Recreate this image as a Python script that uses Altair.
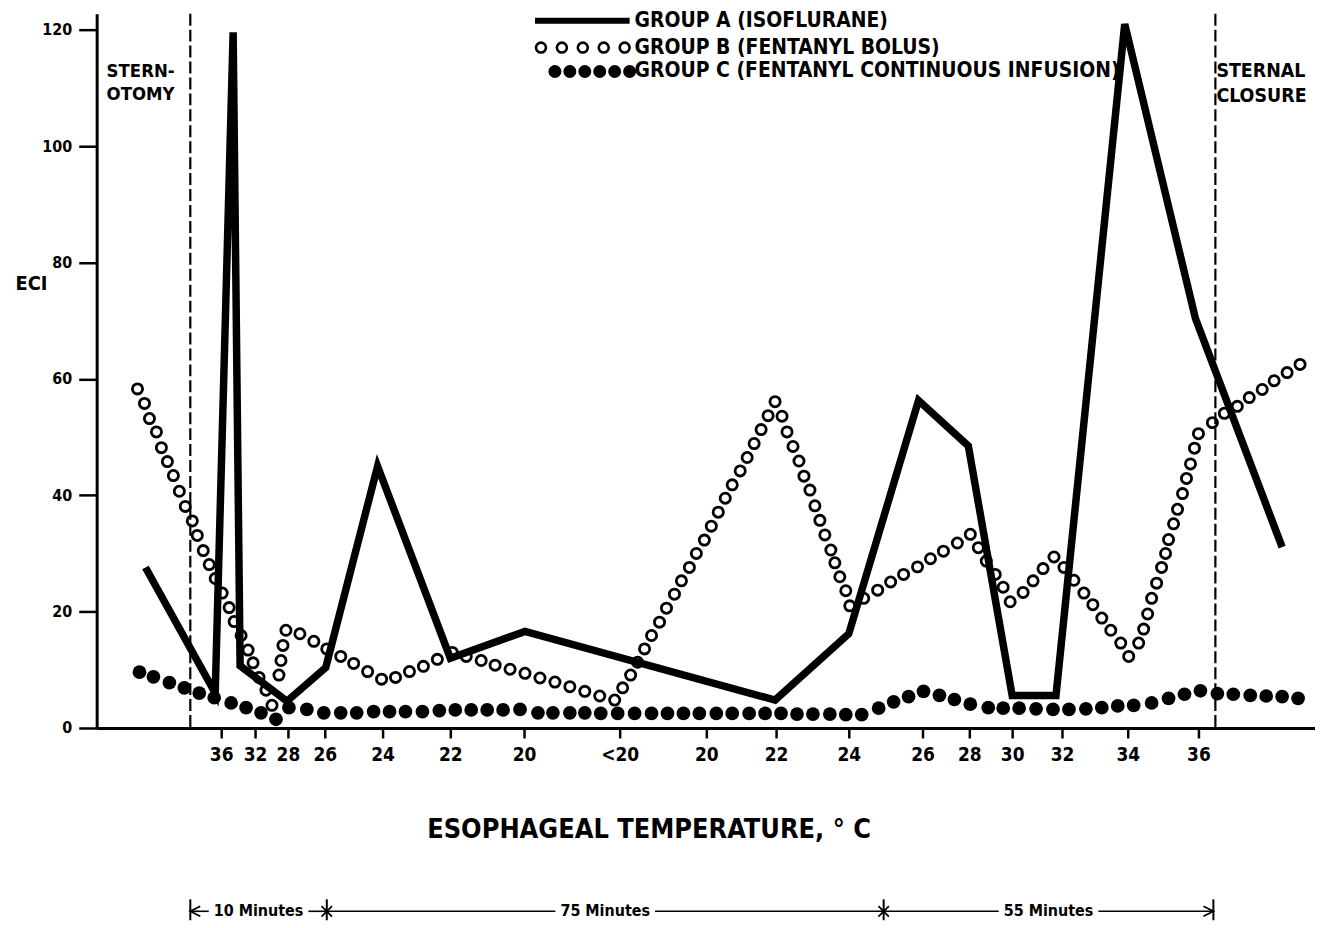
import altair as alt
import pandas as pd

FONT = "Liberation Sans Narrow, DejaVu Sans Condensed, Arial Narrow, sans-serif"

# ---------------- data ----------------
# x axis: schematic time/temperature course; ticks carry temperature labels
tick_pos = [222, 256, 289, 326, 384, 452, 526, 622, 709, 779, 852, 926, 973, 1016, 1066, 1132, 1203]
tick_lab = ["36", "32", "28", "26", "24", "22", "20", "<20", "20", "22", "24", "26", "28", "30", "32", "34", "36"]
y_ticks = [0, 20, 40, 60, 80, 100, 120]

# Group A (isoflurane) - solid line
a_pos = [146, 216, 234, 241, 288, 327, 379, 452, 527, 778, 852, 922, 972, 1016, 1060, 1129, 1200, 1287]
a_val = [27.6, 6.0, 119.6, 10.7, 4.6, 10.4, 45.0, 12.0, 16.6, 4.8, 16.2, 56.3, 48.5, 5.6, 5.6, 121.0, 70.4, 31.1]

# Group B (fentanyl bolus) - open circles
b_pos = [138, 145, 150, 157, 162, 168, 174, 180, 186, 193,
         198, 204, 210, 216, 223, 230, 235, 242, 249, 254,
         260, 267, 273, 280, 282, 284, 287, 301, 315, 328,
         342, 355, 369, 383, 397, 411, 425, 439, 454, 468,
         483, 497, 512, 527, 542, 557, 572, 587, 602, 617,
         625, 633, 640, 647, 654, 662, 669, 677, 684, 692,
         699, 707, 714, 721, 728, 735, 743, 750, 757, 764,
         771, 778, 785, 790, 796, 802, 807, 813, 818, 823,
         828, 834, 838, 843, 849, 853, 867, 881, 894, 907,
         921, 934, 947, 961, 974, 982, 990, 999, 1007, 1014,
         1027, 1037, 1047, 1058, 1068, 1078, 1088, 1097, 1106, 1115,
         1125, 1133, 1143, 1148, 1152, 1156, 1161, 1166, 1170, 1173,
         1178, 1182, 1187, 1191, 1195, 1199, 1203, 1217, 1229, 1242,
         1254, 1267, 1279, 1292, 1305]
b_val = [58.3, 55.8, 53.2, 50.9, 48.2, 45.8, 43.4, 40.7, 38.1, 35.6,
         33.1, 30.5, 28.1, 25.7, 23.2, 20.7, 18.3, 15.9, 13.4, 11.2,
         8.7, 6.5, 3.9, 9.1, 11.6, 14.2, 16.8, 16.2, 14.9, 13.6,
         12.3, 11.1, 9.7, 8.4, 8.7, 9.7, 10.6, 11.8, 13.0, 12.3,
         11.6, 10.8, 10.1, 9.4, 8.6, 7.9, 7.1, 6.3, 5.5, 4.8,
         6.9, 9.1, 11.3, 13.6, 15.9, 18.2, 20.6, 23.0, 25.3, 27.6,
         30.0, 32.3, 34.7, 37.1, 39.5, 41.8, 44.2, 46.5, 48.9, 51.3,
         53.7, 56.1, 53.6, 50.9, 48.4, 45.9, 43.3, 40.9, 38.2, 35.7,
         33.2, 30.6, 28.4, 26.0, 23.6, 21.0, 22.3, 23.7, 25.1, 26.4,
         27.7, 29.1, 30.4, 31.8, 33.3, 31.0, 28.7, 26.4, 24.2, 21.7,
         23.3, 25.3, 27.4, 29.4, 27.6, 25.4, 23.2, 21.2, 18.9, 16.8,
         14.6, 12.3, 14.6, 17.0, 19.6, 22.3, 24.9, 27.6, 30.0, 32.4,
         35.1, 37.6, 40.3, 42.9, 45.4, 48.1, 50.6, 52.5, 54.1, 55.3,
         56.8, 58.2, 59.7, 61.1, 62.5]

# Group C (fentanyl continuous infusion) - filled circles
c_pos = [140, 154, 170, 185, 200, 215, 232, 247, 262, 277,
         290, 308, 325, 342, 358, 375, 391, 407, 424, 441,
         457, 473, 489, 505, 522, 540, 555, 572, 587, 603,
         620, 637, 654, 670, 686, 702, 719, 735, 752, 768,
         784, 800, 816, 833, 849, 865, 882, 897, 912, 927,
         943, 958, 974, 992, 1007, 1023, 1040, 1057, 1073, 1090,
         1106, 1122, 1138, 1156, 1173, 1189, 1205, 1222, 1238, 1255,
         1271, 1287, 1303]
c_val = [9.6, 8.8, 7.8, 6.9, 6.0, 5.2, 4.3, 3.5, 2.6, 1.5,
         3.5, 3.2, 2.6, 2.6, 2.6, 2.8, 2.8, 2.8, 2.8, 3.0,
         3.1, 3.1, 3.1, 3.1, 3.2, 2.6, 2.6, 2.6, 2.6, 2.5,
         2.5, 2.5, 2.5, 2.5, 2.5, 2.5, 2.5, 2.5, 2.5, 2.5,
         2.5, 2.4, 2.4, 2.4, 2.3, 2.3, 3.4, 4.5, 5.4, 6.3,
         5.6, 4.9, 4.1, 3.5, 3.4, 3.4, 3.3, 3.2, 3.2, 3.3,
         3.5, 3.8, 3.9, 4.3, 5.1, 5.8, 6.4, 5.9, 5.8, 5.6,
         5.5, 5.4, 5.1]

# events (dashed lines) and elapsed-time spans
event_pos = [191, 1220]
event_lab = [["STERN-", "OTOMY"], ["STERNAL", "CLOSURE"]]
span_start = [191, 328, 887]
span_end = [328, 887, 1218]
span_lab = ["10 Minutes", "75 Minutes", "55 Minutes"]

legend_lab = ["GROUP A (ISOFLURANE)", "GROUP B (FENTANYL BOLUS)",
              "GROUP C (FENTANYL CONTINUOUS INFUSION)"]

# ---------------- layout ----------------
X0, X1 = 97, 1320
YMAX = 122.8
W, H = X1 - X0, 717
BASE_ROW = 12 + H  # page row of ECI = 0


def yv(py):
    """page row -> ECI units (used only to place annotations through the scale)"""
    return (BASE_ROW - py) * YMAX / H


xs = alt.Scale(domain=[X0, X1], nice=False, zero=False)
ys = alt.Scale(domain=[0, YMAX], nice=False, zero=False)

label_expr = ("[" + ",".join(f"'{l}'" for l in tick_lab) + "][indexof(["
              + ",".join(str(p) for p in tick_pos) + "], datum.value)]")

x_axis = alt.Axis(values=tick_pos, labelExpr=label_expr,
                  title="ESOPHAGEAL TEMPERATURE, ° C", grid=False,
                  domainColor="black", domainWidth=3, tickColor="black",
                  tickWidth=2.5, tickSize=10, labelFont=FONT, labelFontSize=19,
                  labelFontWeight="bold", labelColor="black", labelPadding=8,
                  labelOverlap=False, labelFlush=False, titleFont=FONT,
                  titleFontSize=27, titleFontWeight="bold", titleColor="black",
                  titlePadding=52, titleX=554, titleAlign="center")
y_axis = alt.Axis(values=y_ticks, title="ECI", titleAngle=0, titleX=-66, titleY=271,
                  titleAlign="center", titleBaseline="middle", titleFont=FONT,
                  titleFontSize=20, titleFontWeight="bold", titleColor="black",
                  grid=False, domainColor="black", domainWidth=3, tickColor="black",
                  tickWidth=2.5, tickSize=18, labelFont=FONT, labelFontSize=16,
                  labelFontWeight="bold", labelColor="black", labelPadding=7)


def X(field="pos"):
    return alt.X(f"{field}:Q", scale=xs, axis=x_axis)


def Y(field="v"):
    return alt.Y(f"{field}:Q", scale=ys, axis=y_axis)


df_a = pd.DataFrame({"pos": a_pos, "v": a_val, "i": range(len(a_pos))})
df_b = pd.DataFrame({"pos": b_pos, "v": b_val})
df_c = pd.DataFrame({"pos": c_pos, "v": c_val})
df_ev = pd.DataFrame({"pos": event_pos})

events = alt.Chart(df_ev).mark_rule(color="black", strokeWidth=2.2, strokeDash=[12, 4]).encode(x=X())

grp_b = alt.Chart(df_b).mark_point(shape="circle", filled=False, size=105, strokeWidth=2.8,
                                   color="black", opacity=1).encode(x=X(), y=Y())
grp_c = alt.Chart(df_c).mark_circle(size=190, color="black", opacity=1).encode(x=X(), y=Y())
grp_a = alt.Chart(df_a).mark_line(color="black", strokeWidth=7.5, strokeJoin="miter",
                                  strokeCap="butt").encode(x=X(), y=Y(), order="i:Q")

# ---- legend (drawn in the plot, like the original) ----
leg_rows = [yv(19), yv(46), yv(70)]
leg_line = alt.Chart(pd.DataFrame({"pos": [537], "x2": [632], "v": [leg_rows[0]]})).mark_rule(
    color="black", strokeWidth=6).encode(x=X(), x2="x2:Q", y=Y())
leg_b = alt.Chart(pd.DataFrame({"pos": [543 + 21 * k for k in range(5)], "v": [leg_rows[1]] * 5})).mark_point(
    shape="circle", filled=False, size=100, strokeWidth=2.6, color="black", opacity=1).encode(x=X(), y=Y())
leg_c = alt.Chart(pd.DataFrame({"pos": [557 + 15 * k for k in range(6)], "v": [leg_rows[2]] * 6})).mark_circle(
    size=170, color="black", opacity=1).encode(x=X(), y=Y())
leg_txt = alt.Chart(pd.DataFrame({"pos": [637] * 3, "v": leg_rows, "t": legend_lab})).mark_text(
    font=FONT, fontSize=21, fontWeight="bold", color="black", align="left", baseline="middle").encode(
    x=X(), y=Y(), text="t:N")

# ---- event labels ----
ev_rows = pd.DataFrame({
    "pos": [event_pos[0] - 84, event_pos[0] - 84, event_pos[1] + 1, event_pos[1] + 1],
    "v": [yv(70), yv(93), yv(70), yv(95)],
    "t": event_lab[0] + event_lab[1],
    "g": ["a", "a", "b", "b"],
})
ev_txt_a = alt.Chart(ev_rows[ev_rows.g == "a"]).mark_text(
    font=FONT, fontSize=18.5, fontWeight="bold", color="black", align="left", baseline="middle").encode(
    x=X(), y=Y(), text="t:N")
ev_txt_b = alt.Chart(ev_rows[ev_rows.g == "b"]).mark_text(
    font=FONT, fontSize=19.5, fontWeight="bold", color="black", align="left", baseline="middle").encode(
    x=X(), y=Y(), text="t:N")

# ---- elapsed time annotation below the axis ----
ROW = 901  # plot-relative pixel row of the time line
GAP = 50
mids = [(s + e) / 2 for s, e in zip(span_start, span_end)]
seg_x, seg_x2 = [], []
for s, e, m in zip(span_start, span_end, mids):
    seg_x += [s, m + GAP]
    seg_x2 += [m - GAP, e]
bounds = span_start + [span_end[-1]]

t_bars = alt.Chart(pd.DataFrame({"pos": bounds})).mark_rule(color="black", strokeWidth=2).encode(
    x=X(), y=alt.value(ROW - 12), y2=alt.value(ROW + 9))
t_segs = alt.Chart(pd.DataFrame({"pos": seg_x, "x2": seg_x2})).mark_rule(color="black", strokeWidth=1.6).encode(
    x=X(), x2="x2:Q", y=alt.value(ROW))
t_txt = alt.Chart(pd.DataFrame({"pos": mids, "t": span_lab})).mark_text(
    font=FONT, fontSize=16, fontWeight="bold", color="black", align="center", baseline="middle").encode(
    x=X(), y=alt.value(ROW), text="t:N")
t_left = alt.Chart(pd.DataFrame({"pos": [bounds[0] + 5]})).mark_point(
    shape="M1,-1L-1,0L1,1", size=100, strokeWidth=1.8, color="black", filled=False, opacity=1).encode(
    x=X(), y=alt.value(ROW))
t_right = alt.Chart(pd.DataFrame({"pos": [bounds[-1] - 5]})).mark_point(
    shape="M-1,-1L1,0L-1,1", size=100, strokeWidth=1.8, color="black", filled=False, opacity=1).encode(
    x=X(), y=alt.value(ROW))
t_star = alt.Chart(pd.DataFrame({"pos": bounds[1:-1]})).mark_point(
    shape="M-1,-1L1,1M-1,1L1,-1", size=110, strokeWidth=1.8, color="black", filled=False, opacity=1).encode(
    x=X(), y=alt.value(ROW))

chart = alt.layer(
    events, grp_b, grp_c, grp_a,
    leg_line, leg_b, leg_c, leg_txt,
    ev_txt_a, ev_txt_b,
    t_segs, t_bars, t_txt, t_left, t_right, t_star,
).properties(
    width=W, height=H,
    padding={"left": 89, "top": 4, "right": 0, "bottom": 192},
    autosize=alt.AutoSizeParams(type="none"),
).configure(background="white").configure_view(stroke=None)

chart.save("out.html", embed_options={"renderer": "svg", "actions": False})
